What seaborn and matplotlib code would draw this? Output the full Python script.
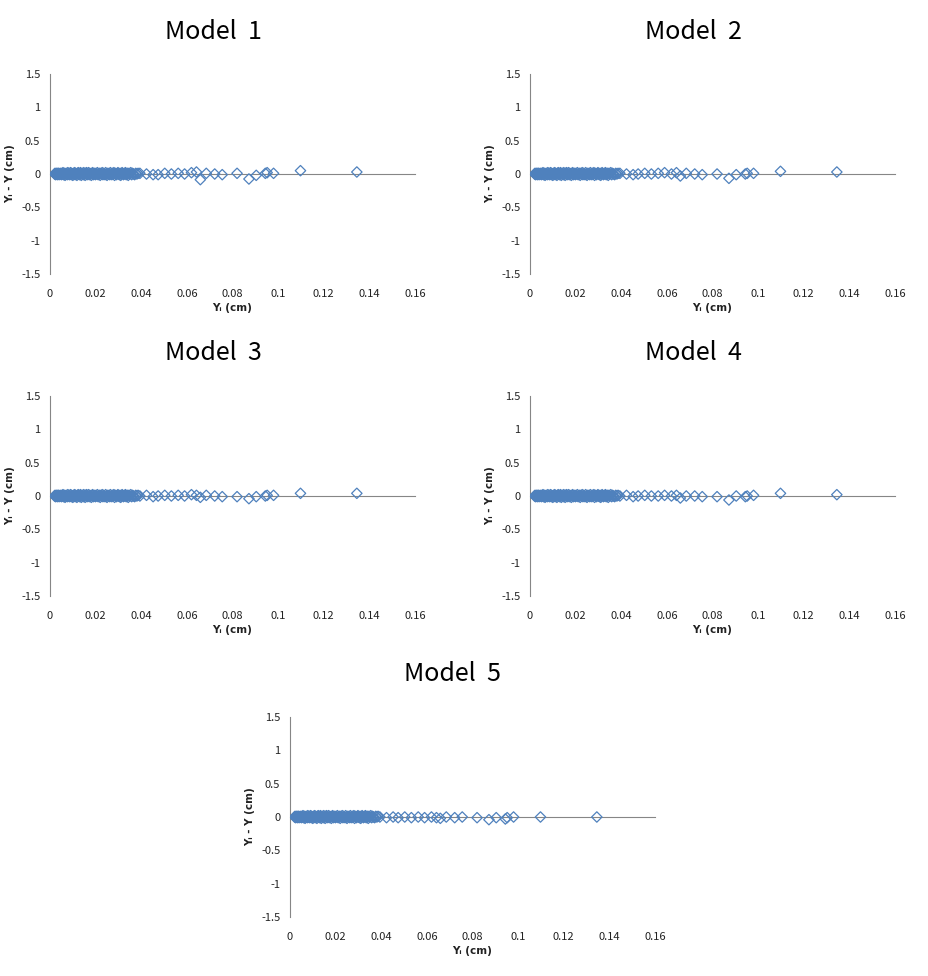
import matplotlib
matplotlib.use("Agg")
import matplotlib.pyplot as plt
import seaborn as sns
import pandas as pd

sns.set_style("white")
plt.rcParams['font.family'] = ['Noto Sans CJK KR', 'DejaVu Sans']
plt.rcParams['text.color'] = 'black'

# observed deflection Y_i (cm), dense part shared by all models
dense_x = [0.0020, 0.0022, 0.0024, 0.0026, 0.0028, 0.0030, 0.0032, 0.0034, 0.0036, 0.0038,
           0.0040, 0.0043, 0.0045, 0.0047, 0.0050, 0.0052, 0.0054, 0.0057, 0.0059, 0.0061,
           0.0064, 0.0066, 0.0068, 0.0071, 0.0073, 0.0076, 0.0078, 0.0080, 0.0083, 0.0085,
           0.0088, 0.0090, 0.0093, 0.0095, 0.0098, 0.0100, 0.0103, 0.0105, 0.0108, 0.0110,
           0.0113, 0.0116, 0.0118, 0.0121, 0.0124, 0.0126, 0.0129, 0.0132, 0.0134, 0.0137,
           0.0140, 0.0143, 0.0146, 0.0148, 0.0151, 0.0154, 0.0157, 0.0160, 0.0163, 0.0166,
           0.0169, 0.0172, 0.0175, 0.0178, 0.0181, 0.0184, 0.0187, 0.0190, 0.0193, 0.0196,
           0.0199, 0.0202, 0.0205, 0.0208, 0.0211, 0.0214, 0.0217, 0.0220, 0.0223, 0.0226,
           0.0229, 0.0232, 0.0235, 0.0238, 0.0241, 0.0244, 0.0247, 0.0250, 0.0253, 0.0256,
           0.0259, 0.0262, 0.0265, 0.0268, 0.0271, 0.0274, 0.0277, 0.0280, 0.0283, 0.0286,
           0.0289, 0.0292, 0.0295, 0.0298, 0.0301, 0.0304, 0.0307, 0.0310, 0.0313, 0.0316,
           0.0319, 0.0322, 0.0325, 0.0328, 0.0331, 0.0334, 0.0337, 0.0340, 0.0343, 0.0346,
           0.0350, 0.0354, 0.0358, 0.0362, 0.0366, 0.0371, 0.0376, 0.0381, 0.0386]
dense_res = [0.00, 0.01, -0.01, 0.00, 0.01, 0.00, -0.01, 0.01, 0.00, 0.01,
             -0.01, 0.00, 0.01, 0.00, -0.01, 0.01, 0.00, 0.02, -0.01, 0.00,
             0.01, -0.02, 0.00, 0.01, 0.00, -0.01, 0.02, 0.00, 0.01, -0.01,
             0.00, 0.02, -0.01, 0.01, 0.00, -0.02, 0.01, 0.00, 0.02, -0.01,
             0.01, 0.00, -0.02, 0.01, 0.02, 0.00, -0.01, 0.01, 0.02, -0.02,
             0.00, 0.01, -0.01, 0.02, 0.00, -0.02, 0.01, 0.02, -0.01, 0.00,
             0.02, -0.01, 0.01, 0.00, -0.02, 0.01, 0.02, -0.01, 0.00, 0.01,
             -0.01, 0.01, 0.00, 0.02, -0.01, 0.00, 0.01, -0.02, 0.01, 0.00,
             0.02, -0.01, 0.01, 0.00, -0.01, 0.02, 0.00, -0.02, 0.01, 0.00,
             0.01, -0.01, 0.02, 0.00, -0.01, 0.01, 0.00, 0.02, -0.02, 0.01,
             0.00, -0.01, 0.01, 0.02, 0.00, -0.01, 0.01, -0.02, 0.00, 0.02,
             0.01, -0.01, 0.00, 0.01, 0.02, -0.01, 0.00, 0.01, -0.02, 0.01,
             0.00, 0.02, -0.01, 0.01, 0.00, -0.01, 0.01, 0.00, 0.01]

sparse_x = [0.0394, 0.0423, 0.0452, 0.0474, 0.0503, 0.0532, 0.0562, 0.0590, 0.0620, 0.0642,
            0.0659, 0.0685, 0.0722, 0.0755, 0.0820, 0.0872, 0.0904, 0.0944, 0.0952, 0.0980,
            0.1098, 0.1345]
res_m1 = [0.01, 0.00, -0.01, -0.01, 0.01, 0.00, 0.01, 0.00, 0.02, 0.03,
          -0.085, 0.01, 0.00, -0.01, 0.01, -0.075, -0.02, 0.01, 0.02, 0.01,
          0.05, 0.03]
res_m2 = [0.01, 0.00, -0.01, 0.00, 0.01, 0.00, 0.01, 0.02, 0.00, 0.02,
          -0.03, 0.01, 0.00, -0.01, 0.00, -0.065, -0.01, 0.00, 0.01, 0.01,
          0.04, 0.03]
res_m3 = [0.00, 0.01, -0.01, 0.00, 0.01, 0.00, 0.01, 0.00, 0.02, 0.01,
          -0.02, 0.01, 0.00, -0.01, -0.01, -0.04, -0.01, 0.00, 0.01, 0.01,
          0.04, 0.04]
res_m4 = [0.00, 0.01, -0.01, 0.00, 0.01, 0.00, 0.00, 0.01, 0.00, 0.01,
          -0.03, 0.00, 0.00, -0.01, -0.01, -0.06, 0.00, -0.01, 0.00, 0.01,
          0.04, 0.02]
res_m5 = [0.00, -0.01, 0.00, -0.01, 0.00, -0.01, 0.00, -0.01, 0.00, -0.01,
          -0.02, 0.00, -0.01, 0.00, -0.01, -0.04, -0.01, -0.03, -0.01, 0.00,
          0.00, 0.00]

models = ["Model  1", "Model  2", "Model  3", "Model  4", "Model  5"]
residuals = [res_m1, res_m2, res_m3, res_m4, res_m5]

x_ticks = [0, 0.02, 0.04, 0.06, 0.08, 0.1, 0.12, 0.14, 0.16]
x_labels = ["0", "0.02", "0.04", "0.06", "0.08", "0.1", "0.12", "0.14", "0.16"]
y_ticks = [1.5, 1, 0.5, 0, -0.5, -1, -1.5]
y_labels = ["1.5", "1", "0.5", "0", "-0.5", "-1", "-1.5"]

W, H = 929, 976
fig = plt.figure(figsize=(W / 100, H / 100), dpi=100)

# plot-area boxes in pixels: (left, top), and title centres
panels = [(50, 74, 213, 32), (530, 74, 693, 32),
          (50, 396, 213, 353), (530, 396, 693, 353),
          (290, 717, 453, 674)]
pw, ph = 365, 200
grey = "#868686"
blue = "#4F81BD"

for name, res, (l, t, tx, ty) in zip(models, residuals, panels):
    ax = fig.add_axes([l / W, 1 - (t + ph) / H, pw / W, ph / H])
    df = pd.DataFrame({"x": dense_x + sparse_x, "r": dense_res + res})
    sns.scatterplot(data=df, x="x", y="r", ax=ax, marker="D", s=28,
                    facecolor="none", edgecolor=blue, linewidth=0.9, zorder=3)
    ax.set_xlim(0, 0.16)
    ax.set_ylim(-1.5, 1.5)
    ax.set_xticks(x_ticks)
    ax.set_xticklabels(x_labels)
    ax.set_yticks(y_ticks)
    ax.set_yticklabels(y_labels)
    for s in ["top", "right"]:
        ax.spines[s].set_visible(False)
    ax.spines["bottom"].set_position(("data", 0))
    ax.spines["bottom"].set_color(grey)
    ax.spines["left"].set_color(grey)
    ax.spines["bottom"].set_zorder(1)
    ax.tick_params(axis="x", direction="out", length=4, color=grey, width=0.8,
                   labelsize=8, labelcolor="#222222", pad=79)
    ax.tick_params(axis="y", direction="out", length=4, color=grey, width=0.8,
                   labelsize=8, labelcolor="#222222", pad=3)
    ax.set_xlabel("Yᵢ (cm)", fontsize=7.5, fontweight="bold", labelpad=3,
                  family=['DejaVu Sans'], color="#222222")
    ax.set_ylabel("Yᵢ - Y (cm)", fontsize=7.5, fontweight="bold", labelpad=4,
                  family=['DejaVu Sans'], color="#222222")
    fig.text(tx / W, 1 - ty / H, name, ha="center", va="center", fontsize=18,
             color="black")

fig.savefig("out.png", dpi=100)
